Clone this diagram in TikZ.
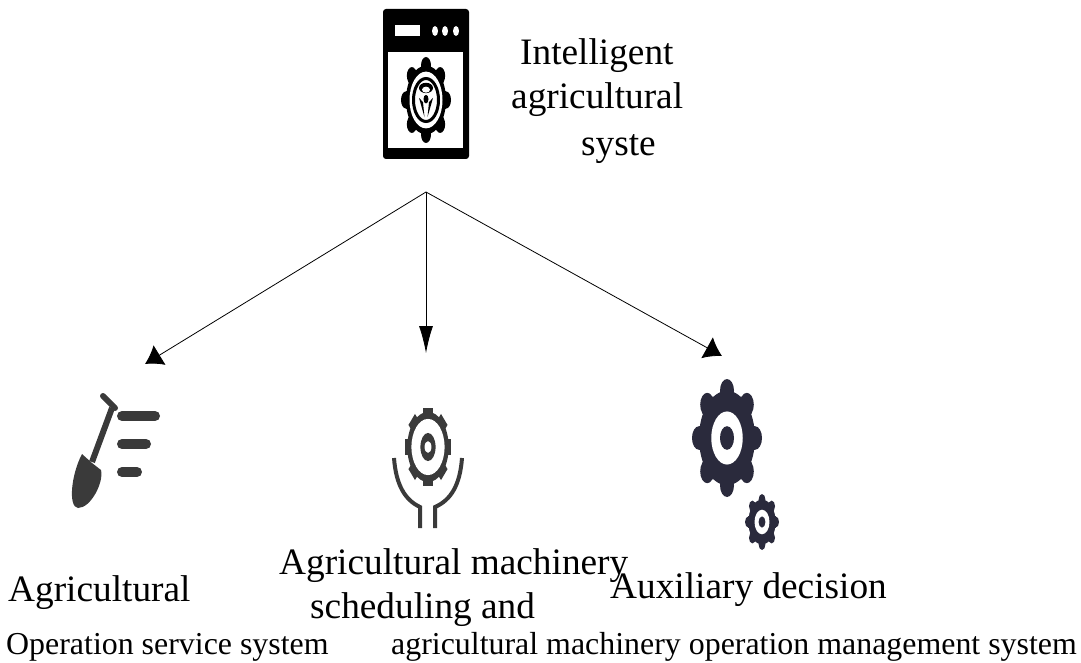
\documentclass[tikz,border=0pt]{standalone}
\usepackage{fontspec}
\setmainfont{Liberation Serif}
\usepackage{xcolor}
\usetikzlibrary{positioning,calc,arrows.meta}
\definecolor{gearnavy}{HTML}{2A2A3C}
\definecolor{icongray}{HTML}{3A3A3A}

% unit gear: 8 teeth with round ends, scaled by the enclosing scope
\newcommand{\roundgear}[1]{%
  \foreach \ang in {0,45,...,315} {
    \fill[#1,rotate=\ang] (-0.2,0) rectangle (0.2,0.8);
    \fill[#1,rotate=\ang] (0,0.8) circle (0.2);
  }
  \fill[#1] (0,0) circle (0.8);
}

\begin{document}
\begin{tikzpicture}[x=1pt,y=-1pt]
    \tikzstyle{label big}=[inner sep=0pt,anchor=base west,font=\fontsize{37.3}{44}\selectfont]
    \tikzstyle{label small}=[inner sep=0pt,anchor=base west,font=\fontsize{31.9}{38}\selectfont]
    \tikzstyle{link}=[draw=black,line width=0.8pt]

    \useasboundingbox (0,0) rectangle (1081,663);

    % system icon
    \fill[black,rounded corners=3pt] (383,9) rectangle (469,159);
    \fill[white] (388,52) rectangle (463,148);
    \fill[white] (395,25) rectangle (420,36);
    \foreach \dotx in {435,445,456}
        \fill[white] (\dotx,31) ellipse (3 and 5);
    \begin{scope}[shift={(426,100)},xscale=25,yscale=43]
        \roundgear{black}
        \fill[white] (0,0) circle (0.66);
        \draw[black,line width=3pt] (0,0) circle (0.5);
        \fill[black] (0,-0.28) ellipse (0.28 and 0.12);
        \fill[white] (0,-0.24) ellipse (0.16 and 0.07);
        \fill[black] (-0.28,-0.05) -- (-0.06,0.4) -- (-0.12,0.05) -- cycle;
        \fill[black] (0.28,-0.05) -- (0.06,0.4) -- (0.12,0.05) -- cycle;
        \fill[black] (0,-0.02) ellipse (0.1 and 0.1);
    \end{scope}

    % shovel icon
    \draw[icongray,line width=6pt] (112,408) -- (92,462);
    \draw[icongray,line width=6pt,line cap=round] (103,396) -- (115,408);
    \fill[icongray] (82,454) -- (92,463) -- (101,470)
        .. controls (104,482) and (91,508) .. (78,508)
        .. controls (68,507) and (71,475) .. cycle;
    \foreach \bary/\barx in {416/155,444/146,472/137}
        \draw[icongray,line width=10pt,line cap=round] (122,\bary) -- (\barx,\bary);

    % machinery icon
    \begin{scope}[shift={(428,447)},xscale=23,yscale=39]
        \foreach \ang in {0,45,...,315}
            \fill[icongray,rotate=\ang] (-0.2,0) rectangle (0.2,1);
        \fill[icongray] (0,0) circle (0.9);
        \fill[white] (0,0) circle (0.72);
        \fill[icongray] (0,0) ellipse (0.33 and 0.36);
        \fill[white] (0,0) ellipse (0.15 and 0.15);
    \end{scope}
    \draw[icongray,line width=4pt] (394,458) .. controls (396,485) and (405,500) .. (420,507) -- (420,528);
    \draw[icongray,line width=4pt] (462,458) .. controls (460,485) and (451,500) .. (435,507) -- (435,528);

    % decision icon
    \begin{scope}[shift={(727,438)},xscale=35,yscale=59]
        \roundgear{gearnavy}
        \fill[white] (0,0) circle (0.45);
        \fill[gearnavy] (0,0) circle (0.2);
    \end{scope}
    \begin{scope}[shift={(762,522)},xscale=17,yscale=28]
        \roundgear{gearnavy}
        \fill[white] (0,0) circle (0.44);
        \fill[gearnavy] (0,0) circle (0.2);
    \end{scope}

    % arrows
    \coordinate (apex) at (426,192);
    \coordinate (service end) at (145,364);
    \coordinate (machinery end) at (426,353);
    \coordinate (decision end) at (722,356);
    \draw[link,-{Latex[length=17pt,width=23pt]}] (apex) -- (service end);
    \draw[link,-{Latex[length=27pt,width=14pt]}] (apex) -- (machinery end);
    \draw[link,-{Latex[length=17pt,width=24pt]}] (apex) -- (decision end);

    % labels
    \node[label big] (title a) at (520,65) {Intelligent};
    \node[label big] (title b) at (511,109) {agricultural};
    \node[label big] (title c) at (581,156) {syste};
    \node[label big] (service) at (8,601) {Agricultural};
    \node[label big] (machinery a) at (279,574) {Agricultural machinery};
    \node[label big] (machinery b) at (310,618) {scheduling and};
    \node[label big] (decision) at (610,598) {Auxiliary decision};
    \node[label small] (service sub) at (6,654) {Operation service system};
    \node[label small] (machinery sub) at (391,654) {agricultural machinery operation management system};
\end{tikzpicture}
\end{document}
